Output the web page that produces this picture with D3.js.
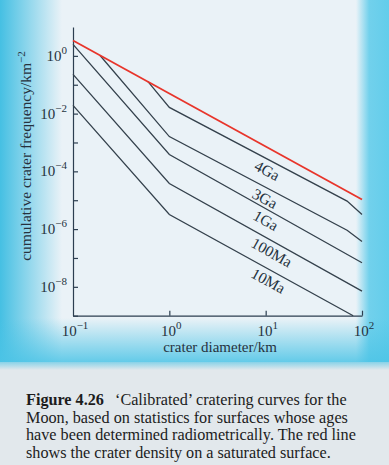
<!DOCTYPE html>
<html>
<head>
<meta charset="utf-8">
<script src="https://cdn.jsdelivr.net/npm/d3@7"></script>
<style>
  body { margin: 0; background: #e2e8ec; }
  svg { display: block; }
  text { font-family: "Liberation Serif", "DejaVu Serif", serif; fill: #26323e; }
</style>
</head>
<body>
<div id="chart"></div>
<script>
// crater diameter (km) / cumulative frequency (km^-2)
const saturation = [[0.1, 3.4], [100, 1.06e-5]];
const curveLabels = ["4Ga", "3Ga", "1Ga", "100Ma", "10Ma"];
const curve4Ga = [[0.6, 0.128], [1, 0.0164], [70, 9.3e-6], [100, 3.2e-6]];
const curve3Ga = [[0.19, 1.05], [1, 1.6e-3], [70, 9.1e-7], [100, 3.7e-7]];
const curve1Ga = [[0.1, 2.5], [1, 3.85e-4], [100, 6.8e-8]];
const curve100Ma = [[0.1, 0.228], [1, 3.8e-5], [100, 7.1e-9]];
const curve10Ma = [[0.1, 0.0192], [1, 3.2e-6], [81, 1.0e-9]];
const curves = [curve4Ga, curve3Ga, curve1Ga, curve100Ma, curve10Ma];
const labelDiameter = [11.6, 11, 11.3, 13, 12];

const xTicks = [0.1, 1, 10, 100];
const xTickExp = ["\u22121", "0", "1", "2"];
const yTicks = [1e-9, 1e-8, 1e-7, 1e-6, 1e-5, 1e-4, 1e-3, 1e-2, 1e-1, 1, 10];
const yLabelTicks = [1, 1e-2, 1e-4, 1e-6, 1e-8];
const yTickExp = ["0", "\u22122", "\u22124", "\u22126", "\u22128"];

const captionLines = [
  ["Figure 4.26", "\u2018Calibrated\u2019 cratering curves for the"],
  ["", "Moon, based on statistics for surfaces whose ages"],
  ["", "have been determined radiometrically. The red line"],
  ["", "shows the crater density on a saturated surface."]
];

const W = 389, H = 465;
const svg = d3.select("#chart").append("svg")
  .attr("width", W).attr("height", H);

// background panel
const defs = svg.append("defs");
const gl = defs.append("linearGradient").attr("id", "gLeft")
  .attr("x1", 0).attr("x2", 1).attr("y1", 0).attr("y2", 0);
gl.append("stop").attr("offset", 0).attr("stop-color", "#3cbde2").attr("stop-opacity", 0.95);
gl.append("stop").attr("offset", 1).attr("stop-color", "#3cbde2").attr("stop-opacity", 0);
const gr = defs.append("linearGradient").attr("id", "gRight")
  .attr("x1", 0).attr("x2", 1).attr("y1", 0).attr("y2", 0);
gr.append("stop").attr("offset", 0).attr("stop-color", "#5ccbea").attr("stop-opacity", 0);
gr.append("stop").attr("offset", 0.4).attr("stop-color", "#5ccbea").attr("stop-opacity", 0.85);
gr.append("stop").attr("offset", 1).attr("stop-color", "#5ccbea").attr("stop-opacity", 0.95);
const gb = defs.append("linearGradient").attr("id", "gBottom")
  .attr("x1", 0).attr("x2", 0).attr("y1", 0).attr("y2", 1);
gb.append("stop").attr("offset", 0).attr("stop-color", "#4cc4e6").attr("stop-opacity", 0);
gb.append("stop").attr("offset", 1).attr("stop-color", "#4cc4e6").attr("stop-opacity", 0.85);
const gt = defs.append("linearGradient").attr("id", "gTop")
  .attr("x1", 0).attr("x2", 0).attr("y1", 0).attr("y2", 1);
gt.append("stop").attr("offset", 0).attr("stop-color", "#4cc4e6").attr("stop-opacity", 0);
gt.append("stop").attr("offset", 1).attr("stop-color", "#4cc4e6").attr("stop-opacity", 0.6);

svg.append("rect").attr("width", W).attr("height", 362).attr("fill", "#eaf2f7");
svg.append("rect").attr("x", 0).attr("y", 0).attr("width", 62).attr("height", 362).attr("fill", "url(#gLeft)");
svg.append("rect").attr("x", 356).attr("y", 0).attr("width", 33).attr("height", 362).attr("fill", "url(#gRight)");
svg.append("rect").attr("x", 0).attr("y", 318).attr("width", W).attr("height", 44).attr("fill", "url(#gBottom)");
svg.append("rect").attr("x", 0).attr("y", 362).attr("width", W).attr("height", 8).attr("fill", "url(#gTop)")
  .attr("transform", "translate(0,732) scale(1,-1)");

// scales
const x = d3.scaleLog().domain([0.1, 100]).range([73, 362]);
const y = d3.scaleLog().domain([1e-9, 10]).range([315.7, 27]);

const axisColor = "#2c3e50";

// axes, ticks pointing inward
const xAxis = d3.axisBottom(x).tickValues(xTicks.slice(1)).tickSizeInner(-5).tickSizeOuter(0).tickFormat("");
svg.append("g").attr("transform", "translate(0,315.7)").call(xAxis)
  .call(g => g.selectAll("line, path").attr("stroke", axisColor).attr("stroke-width", 1.2));

const yAxis = d3.axisLeft(y).tickValues(yTicks.slice(0, -1)).tickSizeInner(-5).tickSizeOuter(0).tickFormat("");
svg.append("g").attr("transform", "translate(73,0)").call(yAxis)
  .call(g => g.selectAll("line, path").attr("stroke", axisColor).attr("stroke-width", 1.2));

// tick labels with superscript exponents
xTicks.forEach((v, i) => {
  const t = svg.append("text").attr("x", x(v) + 2).attr("y", 336)
    .attr("text-anchor", "middle").attr("font-size", 15);
  t.append("tspan").text("10");
  t.append("tspan").attr("dy", -7).attr("font-size", 11).text(xTickExp[i]);
});
yLabelTicks.forEach((v, i) => {
  const t = svg.append("text").attr("x", 67).attr("y", y(v) + 5)
    .attr("text-anchor", "end").attr("font-size", 15);
  t.append("tspan").text("10");
  t.append("tspan").attr("dy", -7).attr("font-size", 11).text(yTickExp[i]);
});

// axis titles
svg.append("text").attr("x", 220).attr("y", 352).attr("text-anchor", "middle")
  .attr("font-size", 15).text("crater diameter/km");
const yt = svg.append("text").attr("transform", "translate(31,156) rotate(-90)")
  .attr("text-anchor", "middle").attr("font-size", 15.5);
yt.append("tspan").text("cumulative crater frequency/km");
yt.append("tspan").attr("dy", -6).attr("font-size", 11).text("\u22122");

// curves
const line = d3.line().x(d => x(d[0])).y(d => y(d[1]));
svg.selectAll(".curve").data(curves).enter().append("path")
  .attr("class", "curve")
  .attr("d", line)
  .attr("fill", "none").attr("stroke", "#34414c").attr("stroke-width", 1.3);

svg.append("path").datum(saturation)
  .attr("d", line)
  .attr("fill", "none").attr("stroke", "#e8352b").attr("stroke-width", 1.8);

// curve labels along the shallow segment
function valueAt(pts, d) {
  for (let i = 1; i < pts.length; i++) {
    if (d <= pts[i][0]) {
      const a = pts[i - 1], b = pts[i];
      const t = (Math.log10(d) - Math.log10(a[0])) / (Math.log10(b[0]) - Math.log10(a[0]));
      return Math.pow(10, Math.log10(a[1]) + t * (Math.log10(b[1]) - Math.log10(a[1])));
    }
  }
  return pts[pts.length - 1][1];
}
curves.forEach((pts, i) => {
  const d = labelDiameter[i];
  const px = x(d), py = y(valueAt(pts, d));
  const p2x = x(d * 2), p2y = y(valueAt(pts, d * 2));
  const ang = Math.atan2(p2y - py, p2x - px) * 180 / Math.PI;
  svg.append("text")
    .attr("transform", `translate(${px},${py}) rotate(${ang}) translate(0,12)`)
    .attr("text-anchor", "middle").attr("dominant-baseline", "middle")
    .attr("font-size", 15.5).text(curveLabels[i]);
});

// caption
captionLines.forEach((ln, i) => {
  const t = svg.append("text").attr("x", 26).attr("y", 405 + i * 17.5)
    .attr("font-size", 16.2).style("fill", "#1c1c1c");
  if (ln[0]) {
    t.append("tspan").attr("font-weight", "bold").text(ln[0]);
    t.append("tspan").attr("x", 115).text(ln[1]);
  } else {
    t.append("tspan").text(ln[1]);
  }
});
</script>
</body>
</html>
